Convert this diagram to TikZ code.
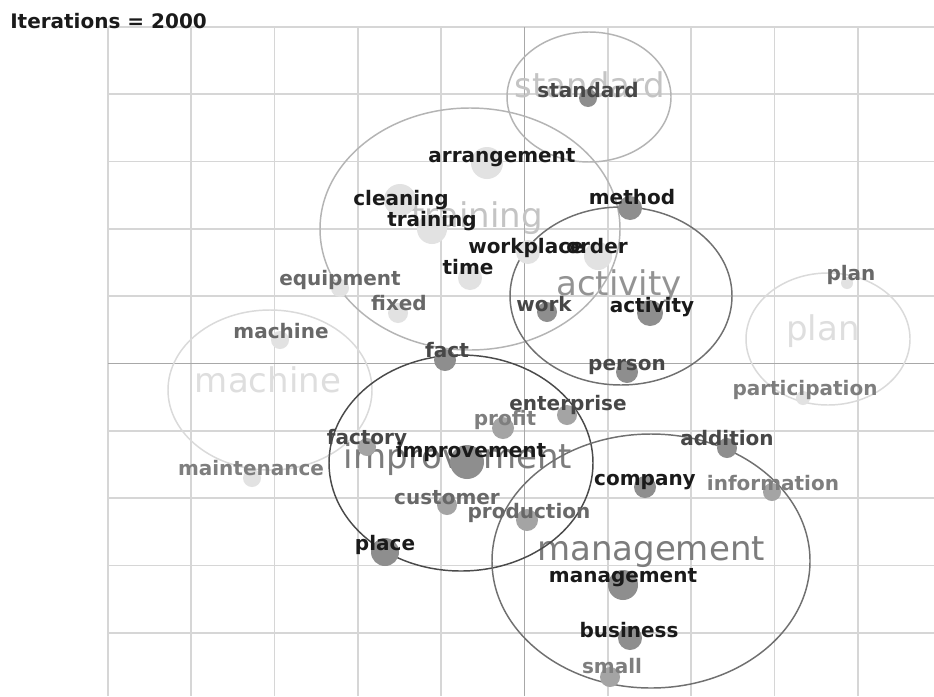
\documentclass[tikz,border=0pt]{standalone}
\usepackage{fontspec}
\setmainfont{DejaVu Sans}
\usepackage{tikz}

\definecolor{gridgray}{HTML}{D6D6D6}
\definecolor{axisgray}{HTML}{A8A8A8}
\definecolor{ringdark}{HTML}{4A4A4A}
\definecolor{ringmid}{HTML}{707070}
\definecolor{ringlight}{HTML}{B4B4B4}
\definecolor{ringpale}{HTML}{DADADA}
\definecolor{bigdark}{HTML}{7C7C7C}
\definecolor{bigmid}{HTML}{939393}
\definecolor{biglight}{HTML}{C4C4C4}
\definecolor{bigpale}{HTML}{DEDEDE}
\definecolor{dotdark}{HTML}{8E8E8E}
\definecolor{dotmid}{HTML}{A4A4A4}
\definecolor{dotlight}{HTML}{E2E2E2}
\definecolor{inkA}{HTML}{1A1A1A}
\definecolor{inkB}{HTML}{474747}
\definecolor{inkC}{HTML}{686868}
\definecolor{inkD}{HTML}{7E7E7E}

\begin{document}
\begin{tikzpicture}[x=0.75pt, y=-0.75pt,
    gridline/.style={draw=gridgray, line width=1.3pt},
    axisline/.style={draw=axisgray, line width=1.3pt},
    cluster/.style={line width=1.1pt},
    bigword/.style={anchor=base, inner sep=0pt, font=\fontsize{25.5}{30}\selectfont},
    word/.style={anchor=base, inner sep=0pt, font=\bfseries\fontsize{15}{18}\selectfont},
    dot/.style={circle, inner sep=0pt, minimum size=#1}
  ]
  \useasboundingbox[fill=white] (0,0) rectangle (934,696);

  % grid
  \foreach \i in {0,...,9}
    \draw[gridline] ({108+83.3*\i},27) -- ({108+83.3*\i},696);
  \foreach \j in {0,...,9}
    \draw[gridline] (108,{27+67.3*\j}) -- (934,{27+67.3*\j});
  \draw[axisline] (524.5,27) -- (524.5,696);
  \draw[axisline] (108,363.5) -- (934,363.5);

  \node[word, anchor=base west, text=inkA] (title) at (10,28) {Iterations = 2000};

  % cluster names
  \node[bigword, text=biglight] (standard-big) at (590,97) {standard};
  \node[bigword, text=biglight] (training-big) at (477,227) {training};
  \node[bigword, text=bigmid] (activity-big) at (619,295) {activity};
  \node[bigword, text=bigpale] (plan-big) at (823,340) {plan};
  \node[bigword, text=bigpale] (machine-big) at (268,392) {machine};
  \node[bigword, text=bigdark] (improvement-big) at (458,468) {improvement};
  \node[bigword, text=bigdark] (management-big) at (651,560) {management};

  % cluster rings
  \coordinate (standard-c) at (589,97);
  \coordinate (training-c) at (470,229);
  \coordinate (activity-c) at (621,296);
  \coordinate (plan-c) at (828,339);
  \coordinate (machine-c) at (270,390);
  \coordinate (improvement-c) at (461,463);
  \coordinate (management-c) at (651,561);
  \draw[cluster, draw=ringlight] (standard-c) ellipse [x radius=61.5pt, y radius=48.75pt];
  \draw[cluster, draw=ringlight] (training-c) ellipse [x radius=112.5pt, y radius=90.75pt];
  \draw[cluster, draw=ringmid] (activity-c) ellipse [x radius=83.25pt, y radius=66.75pt];
  \draw[cluster, draw=ringpale] (plan-c) ellipse [x radius=61.5pt, y radius=49.5pt];
  \draw[cluster, draw=ringpale] (machine-c) ellipse [x radius=76.5pt, y radius=60pt];
  \draw[cluster, draw=ringdark] (improvement-c) ellipse [x radius=99pt, y radius=81pt];
  \draw[cluster, draw=ringmid] (management-c) ellipse [x radius=119.25pt, y radius=95.25pt];

  % term dots
  \node[dot=13.5pt, fill=dotdark] (standard-dot) at (588,98) {};
  \node[dot=24pt, fill=dotlight] (arrangement-dot) at (487,163) {};
  \node[dot=24pt, fill=dotlight] (cleaning-dot) at (400,200) {};
  \node[dot=22.5pt, fill=dotlight] (training-dot) at (432,229) {};
  \node[dot=18pt, fill=dotlight] (workplace-dot) at (528,252) {};
  \node[dot=21pt, fill=dotlight] (order-dot) at (598,256) {};
  \node[dot=18pt, fill=dotlight] (time-dot) at (470,278) {};
  \node[dot=18pt, fill=dotdark] (method-dot) at (630,208) {};
  \node[dot=13.5pt, fill=dotlight] (equipment-dot) at (340,288) {};
  \node[dot=15pt, fill=dotlight] (fixed-dot) at (398,313) {};
  \node[dot=13.5pt, fill=dotlight] (machine-dot) at (280,340) {};
  \node[dot=15pt, fill=dotdark] (work-dot) at (547,312) {};
  \node[dot=19.5pt, fill=dotdark] (activity-dot) at (650,313) {};
  \node[dot=16.5pt, fill=dotdark] (fact-dot) at (445,360) {};
  \node[dot=16.5pt, fill=dotdark] (person-dot) at (627,372) {};
  \node[dot=9pt, fill=dotlight] (plan-dot) at (847,283) {};
  \node[dot=10.5pt, fill=dotlight] (participation-dot) at (803,398) {};
  \node[dot=15pt, fill=dotmid] (enterprise-dot) at (567,415) {};
  \node[dot=16.5pt, fill=dotmid] (profit-dot) at (503,428) {};
  \node[dot=13.5pt, fill=dotmid] (factory-dot) at (367,447) {};
  \node[dot=25.5pt, fill=dotdark] (improvement-dot) at (467,462) {};
  \node[dot=15pt, fill=dotdark] (addition-dot) at (727,448) {};
  \node[dot=13.5pt, fill=dotlight] (maintenance-dot) at (252,478) {};
  \node[dot=15pt, fill=dotmid] (customer-dot) at (447,505) {};
  \node[dot=16.5pt, fill=dotdark] (company-dot) at (645,487) {};
  \node[dot=13.5pt, fill=dotmid] (information-dot) at (772,492) {};
  \node[dot=16.5pt, fill=dotmid] (production-dot) at (527,520) {};
  \node[dot=21pt, fill=dotdark] (place-dot) at (385,552) {};
  \node[dot=22.5pt, fill=dotdark] (management-dot) at (623,585) {};
  \node[dot=18pt, fill=dotdark] (business-dot) at (630,638) {};
  \node[dot=15pt, fill=dotmid] (small-dot) at (610,677) {};

  % term labels
  \node[word, text=inkB] (standard-lab) at (588,97) {standard};
  \node[word, text=inkA] (arrangement-lab) at (502,162) {arrangement};
  \node[word, text=inkA] (cleaning-lab) at (401,205) {cleaning};
  \node[word, text=inkA] (training-lab) at (432,226) {training};
  \node[word, text=inkA] (workplace-lab) at (526,253) {workplace};
  \node[word, text=inkA] (order-lab) at (597,253) {order};
  \node[word, text=inkA] (time-lab) at (468,274) {time};
  \node[word, text=inkA] (method-lab) at (632,204) {method};
  \node[word, text=inkC] (equipment-lab) at (340,285) {equipment};
  \node[word, text=inkC] (fixed-lab) at (399,310) {fixed};
  \node[word, text=inkC] (machine-lab) at (281,338) {machine};
  \node[word, text=inkB] (work-lab) at (544,311) {work};
  \node[word, text=inkA] (activity-lab) at (652,312) {activity};
  \node[word, text=inkB] (fact-lab) at (447,357) {fact};
  \node[word, text=inkB] (person-lab) at (627,370) {person};
  \node[word, text=inkC] (plan-lab) at (851,280) {plan};
  \node[word, text=inkD] (participation-lab) at (805,395) {participation};
  \node[word, text=inkB] (enterprise-lab) at (568,410) {enterprise};
  \node[word, text=inkD] (profit-lab) at (505,425) {profit};
  \node[word, text=inkB] (factory-lab) at (367,444) {factory};
  \node[word, text=inkA] (improvement-lab) at (471,457) {improvement};
  \node[word, text=inkB] (addition-lab) at (727,445) {addition};
  \node[word, text=inkD] (maintenance-lab) at (251,475) {maintenance};
  \node[word, text=inkC] (customer-lab) at (447,504) {customer};
  \node[word, text=inkA] (company-lab) at (645,485) {company};
  \node[word, text=inkD] (information-lab) at (773,490) {information};
  \node[word, text=inkC] (production-lab) at (529,518) {production};
  \node[word, text=inkA] (place-lab) at (385,550) {place};
  \node[word, text=inkA] (management-lab) at (623,582) {management};
  \node[word, text=inkA] (business-lab) at (629,637) {business};
  \node[word, text=inkD] (small-lab) at (612,673) {small};
\end{tikzpicture}
\end{document}
